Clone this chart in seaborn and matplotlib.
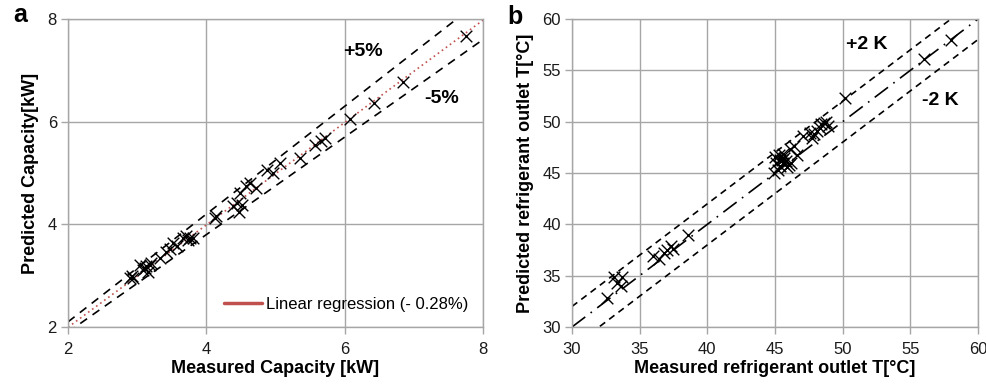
import numpy as np
import matplotlib
matplotlib.use("Agg")
import matplotlib.pyplot as plt
import seaborn as sns
import pandas as pd

# ---- data ----
cap_measured = [7.75, 6.85, 6.43, 6.07, 5.66, 5.57, 5.71, 5.35, 5.07, 4.97, 4.87,
                4.72, 4.63, 4.58, 4.48, 4.44, 4.47, 4.38, 4.51, 4.14, 4.12, 3.81,
                3.71, 3.73, 3.76, 3.66, 3.57, 3.52, 3.47, 3.42, 3.33, 3.20, 3.13,
                3.08, 3.04, 3.16, 3.11, 3.18, 2.92, 2.94, 2.90]
cap_predicted = [7.67, 6.77, 6.36, 6.05, 5.62, 5.55, 5.68, 5.29, 5.19, 5.00, 5.06,
                 4.71, 4.81, 4.74, 4.61, 4.42, 4.25, 4.35, 4.38, 4.16, 4.12, 3.73,
                 3.77, 3.70, 3.73, 3.73, 3.57, 3.64, 3.51, 3.47, 3.34, 3.25, 3.18,
                 3.12, 3.21, 3.08, 3.15, 3.21, 2.99, 2.95, 2.95]

t_measured = [58.0, 56.0, 50.2, 48.6, 48.3, 48.1, 47.6, 47.1, 47.7, 46.1, 46.4,
              45.6, 45.4, 45.0, 45.1, 45.6, 45.9, 45.2, 44.9, 46.6, 45.8, 46.0,
              48.8, 48.9, 48.4, 47.9, 45.5, 45.7, 45.3, 46.2, 45.4,
              38.6, 37.3, 36.8, 37.0, 36.0, 36.4, 37.5, 33.7, 33.1, 33.3, 33.6, 32.6]
t_predicted = [58.0, 56.1, 52.3, 49.9, 49.4, 49.1, 48.9, 48.6, 48.4, 47.3, 47.6,
               46.9, 46.3, 46.6, 46.0, 46.0, 45.6, 45.3, 45.0, 46.8, 46.2, 45.8,
               50.0, 49.6, 49.8, 48.8, 46.3, 46.5, 46.8, 46.0, 45.7,
               39.0, 37.9, 37.2, 37.5, 36.9, 36.6, 37.6, 34.9, 34.9, 34.3, 34.0, 32.8]

cap_ticks = [2, 4, 6, 8]
t_ticks = [30, 35, 40, 45, 50, 55, 60]
slope_reg = 1 - 0.0028

sns.set_style("white")
plt.rcParams["font.family"] = ["Liberation Sans", "DejaVu Sans"]
plt.rcParams["text.color"] = "black"
plt.rcParams["axes.labelcolor"] = "black"

fig = plt.figure(figsize=(9.87, 3.92), dpi=100)
ax_a = fig.add_axes([0.0689, 0.1658, 0.4205, 0.7857])
ax_b = fig.add_axes([0.5795, 0.1658, 0.4114, 0.7857])

grid_col = "#a6a6a6"


def style_axes(ax, ticks):
    ax.set_xlim(ticks[0], ticks[-1])
    ax.set_ylim(ticks[0], ticks[-1])
    ax.set_xticks(ticks)
    ax.set_yticks(ticks)
    ax.grid(True, color=grid_col, lw=1)
    for s in ax.spines.values():
        s.set_color(grid_col)
        s.set_linewidth(1)
    ax.tick_params(axis="both", bottom=True, left=True, direction="out", length=5,
                   width=1, color=grid_col, labelsize=12, labelcolor="#1a1a1a", pad=3)
    ax.tick_params(axis="x", pad=6)


# ---- panel a ----
df_a = pd.DataFrame({"meas": cap_measured, "pred": cap_predicted})
xs = np.array([cap_ticks[0], cap_ticks[-1]], dtype=float)
ax_a.plot(xs, xs * 1.05, color="black", ls=(0, (5, 4)), lw=1.2, zorder=2)
ax_a.plot(xs, xs * 0.95, color="black", ls=(0, (5, 4)), lw=1.2, zorder=2)
ax_a.plot(xs, xs * slope_reg, color="#c0504d", ls=(0, (1, 2)), lw=1.2, zorder=2)
ax_a.plot([], [], color="#c0504d", lw=2.5, label="Linear regression (- 0.28%)")
sns.scatterplot(data=df_a, x="meas", y="pred", marker="x", s=70, color="black",
                linewidth=1.0, ax=ax_a, zorder=3)
style_axes(ax_a, cap_ticks)
ax_a.set_xlabel("Measured Capacity [kW]", fontsize=13, fontweight="bold", labelpad=2)
ax_a.set_ylabel("Predicted Capacity[kW]", fontsize=13, fontweight="bold", labelpad=6)
ax_a.legend(loc="lower right", frameon=False, fontsize=12, handlelength=2.3,
            handletextpad=0.2, borderaxespad=0.5)
ax_a.text(6.27, 7.36, "+5%", fontsize=14, fontweight="bold", ha="center", va="center")
ax_a.text(7.4, 6.46, "-5%", fontsize=14, fontweight="bold", ha="center", va="center")
fig.text(0.020, 0.962, "a", fontsize=18, fontweight="bold", ha="center", va="center")

# ---- panel b ----
df_b = pd.DataFrame({"meas": t_measured, "pred": t_predicted})
xt = np.array([t_ticks[0], t_ticks[-1]], dtype=float)
ax_b.plot(xt, xt + 2, color="black", ls=(0, (4, 3)), lw=1.2, zorder=2)
ax_b.plot(xt, xt - 2, color="black", ls=(0, (4, 3)), lw=1.2, zorder=2)
ax_b.plot(xt, xt, color="black", ls=(0, (10, 4, 1, 4)), lw=1.2, zorder=2)
sns.scatterplot(data=df_b, x="meas", y="pred", marker="x", s=70, color="black",
                linewidth=1.0, ax=ax_b, zorder=3)
style_axes(ax_b, t_ticks)
ax_b.set_xlabel("Measured refrigerant outlet T[°C]", fontsize=13, fontweight="bold", labelpad=2)
ax_b.set_ylabel("Predicted refrigerant outlet T[°C]", fontsize=13, fontweight="bold", labelpad=6)
ax_b.text(51.8, 57.5, "+2 K", fontsize=14, fontweight="bold", ha="center", va="center")
ax_b.text(57.2, 52.1, "-2 K", fontsize=14, fontweight="bold", ha="center", va="center")
fig.text(0.522, 0.957, "b", fontsize=18, fontweight="bold", ha="center", va="center")

fig.savefig("out.png", dpi=100)
